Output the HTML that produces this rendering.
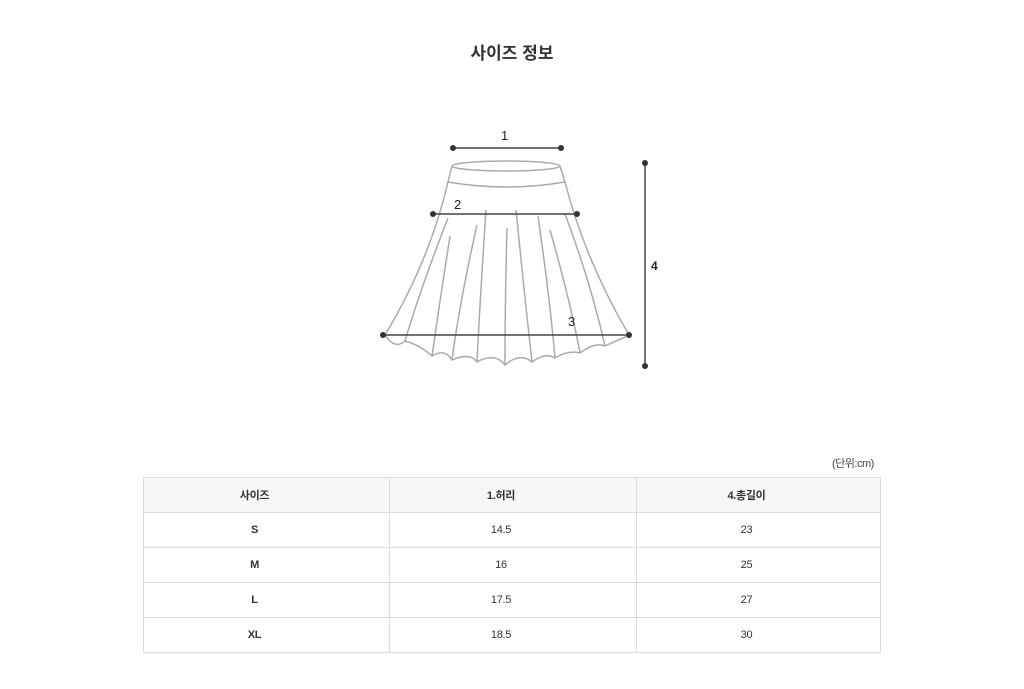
<!DOCTYPE html>
<html><head><meta charset="utf-8"><style>
body{margin:0;width:1024px;height:689px;background:#fff;font-family:"Liberation Sans","Noto Sans CJK KR",sans-serif;position:relative;overflow:hidden}
.t{position:absolute;top:39px;left:0;width:1024px;text-align:center;font-size:17px;font-weight:bold;color:#333}
.u{position:absolute;left:832px;top:455px;font-size:11px;color:#444;letter-spacing:-0.5px}
table{position:absolute;left:143px;top:477px;width:738px;border-collapse:collapse;font-size:11px;color:#333;letter-spacing:-0.3px}
td{border:1px solid #dcdcdc;height:34px;text-align:center;padding:0 24px 0 0}
tr:first-child td{background:#f7f7f9;font-weight:bold}
td:first-child{font-weight:bold;width:221px}
td:nth-child(2){width:222px}
</style></head><body>
<div class="t">사이즈 정보</div>
<svg width="1024" height="689" style="position:absolute;left:0;top:0" fill="none">
<g stroke="#aaa" stroke-width="1.5">
<ellipse cx="506" cy="166" rx="54" ry="5"/>
<path d="M452 166 L448 182 Q506 192 565 182 L560 166"/>
<path d="M448 182 Q430 260 385 335"/>
<path d="M565 182 Q585 260 629 335"/>
<path d="M385 335 Q395 350 405 341 Q420 345 432 356 Q445 348 452 360 Q470 352 477 362 Q495 352 505 365 Q520 352 532 362 Q545 352 555 358 Q568 350 580 353 Q595 342 605 346 Q618 340 628 336"/>
<path d="M448 218 Q420 290 405 341"/><path d="M450 236 Q440 300 432 356"/>
<path d="M477 225 Q460 300 452 360"/><path d="M486 210 Q480 300 477 362"/>
<path d="M507 228 Q505 300 505 365"/><path d="M516 210 Q525 300 532 362"/>
<path d="M538 216 Q550 300 555 358"/><path d="M550 230 Q570 300 580 353"/>
<path d="M565 214 Q590 280 605 346"/>
</g>
<g stroke="#444" stroke-width="1.5">
<line x1="453" y1="148" x2="561" y2="148"/>
<line x1="433" y1="214" x2="577" y2="214"/>
<line x1="383" y1="335" x2="629" y2="335"/>
<line x1="645" y1="163" x2="645" y2="366"/>
</g>
<g fill="#333">
<circle cx="453" cy="148" r="3"/><circle cx="561" cy="148" r="3"/>
<circle cx="433" cy="214" r="3"/><circle cx="577" cy="214" r="3"/>
<circle cx="383" cy="335" r="3"/><circle cx="629" cy="335" r="3"/>
<circle cx="645" cy="163" r="3"/><circle cx="645" cy="366" r="3"/>
</g>
<g fill="#222" font-family="Liberation Sans,sans-serif" font-size="13">
<text x="501" y="140">1</text><text x="454" y="209">2</text><text x="568" y="326">3</text>
<text x="651" y="270" font-weight="bold" font-size="12">4</text>
</g>
</svg>
<div class="u">(단위:cm)</div>
<table>
<tr><td>사이즈</td><td>1.허리</td><td>4.총길이</td></tr>
<tr><td>S</td><td>14.5</td><td>23</td></tr>
<tr><td>M</td><td>16</td><td>25</td></tr>
<tr><td>L</td><td>17.5</td><td>27</td></tr>
<tr><td>XL</td><td>18.5</td><td>30</td></tr>
</table>
</body></html>
